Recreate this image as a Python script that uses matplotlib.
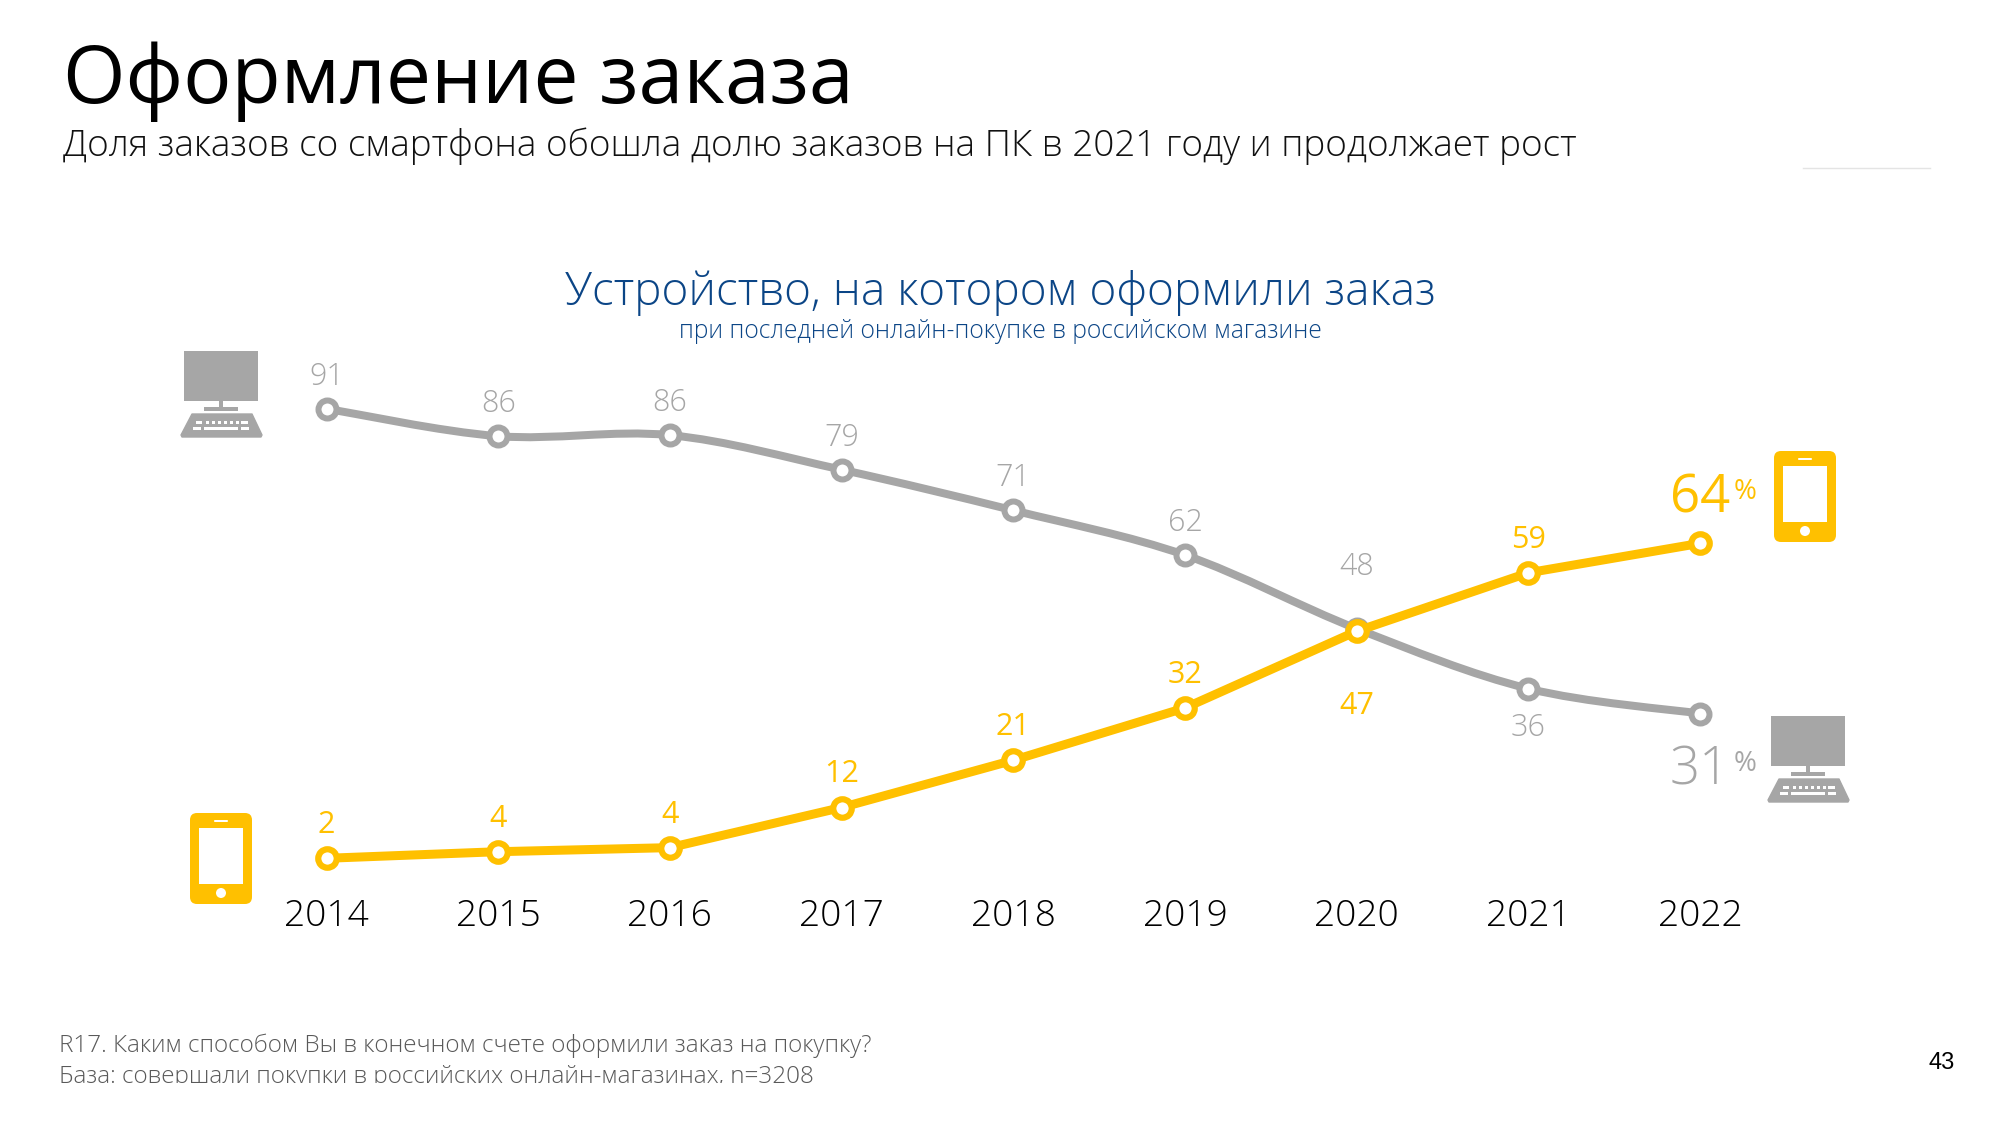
import matplotlib
matplotlib.use('Agg')
import matplotlib.pyplot as plt
import numpy as np
from matplotlib.patches import FancyBboxPatch, PathPatch, Polygon, Rectangle, Circle
from matplotlib.path import Path

plt.rcParams['font.family'] = ['Open Sans', 'DejaVu Sans']

years = [2014, 2015, 2016, 2017, 2018, 2019, 2020, 2021, 2022]
desktop_values = [91, 85.6, 85.8, 79, 71, 62.2, 47.7, 35.9, 31]
phone_values = [2.5, 3.8, 4.6, 12.5, 21.8, 32.1, 47.2, 58.7, 64.5]
desktop_labels = ['91', '86', '86', '79', '71', '62', '48', '36', '31']
phone_labels = ['2', '4', '4', '12', '21', '32', '47', '59', '64']

title = 'Оформление заказа'
subtitle = 'Доля заказов со смартфона обошла долю заказов на ПК в 2021 году и продолжает рост'
chart_title = 'Устройство, на котором оформили заказ'
chart_subtitle = 'при последней онлайн-покупке в российском магазине'
footnote_1 = 'R17. Каким способом Вы в конечном счете оформили заказ на покупку?'
footnote_2 = 'База: совершали покупки в российских онлайн-магазинах, n=3208'
page_number = '43'

GRAY = '#A6A6A6'
YELLOW = '#FFC000'
NAVY = '#0B4586'
W, H = 2000, 1125
PX = 0.72  # points per pixel at dpi 100


def smooth_path(xs, ys):
    # catmull-rom through the points, as bezier segments
    pts = np.column_stack([xs, ys]).astype(float)
    verts = [pts[0]]
    codes = [Path.MOVETO]
    for i in range(len(pts) - 1):
        prev_pt = pts[max(i - 1, 0)]
        next_pt = pts[min(i + 2, len(pts) - 1)]
        verts.append(pts[i] + (pts[i + 1] - prev_pt) / 6)
        verts.append(pts[i + 1] - (next_pt - pts[i]) / 6)
        verts.append(pts[i + 1])
        codes += [Path.CURVE4] * 3
    return Path(verts, codes)


def draw_desktop(ax, ox, oy, color=GRAY):
    ax.add_patch(Rectangle((ox, oy), 74, 50, fc=color, ec='none'))
    ax.add_patch(Rectangle((ox + 35, oy + 50), 4, 7, fc=color, ec='none'))
    ax.add_patch(Rectangle((ox + 20, oy + 56), 34, 4, fc=color, ec='none'))
    ax.add_patch(Polygon([(ox + 8, oy + 63), (ox + 68, oy + 63),
                          (ox + 78, oy + 84), (ox + 77, oy + 86),
                          (ox - 2, oy + 86), (ox - 3, oy + 84)],
                         closed=True, fc=color, ec=color, lw=1, joinstyle='round'))
    for kx, kw in [(12, 6), (22, 3), (28, 3), (34, 3), (40, 3), (46, 3), (52, 3), (57, 7)]:
        ax.add_patch(Rectangle((ox + kx, oy + 70), kw, 3, fc='white', ec='none'))
    for kx, kw in [(9, 8), (20, 34), (57, 8)]:
        ax.add_patch(Rectangle((ox + kx, oy + 76), kw, 3, fc='white', ec='none'))


def draw_phone(ax, ox, oy, color=YELLOW):
    ax.add_patch(FancyBboxPatch((ox + 6, oy + 6), 50, 79,
                                boxstyle='round,pad=6,rounding_size=7',
                                fc=color, ec='none', mutation_aspect=1))
    ax.add_patch(Rectangle((ox + 9, oy + 15), 44, 56, fc='white', ec='none'))
    ax.add_patch(Circle((ox + 31, oy + 80), 5, fc='white', ec='none'))
    ax.add_patch(FancyBboxPatch((ox + 24, oy + 7), 14, 2,
                                boxstyle='round,pad=0,rounding_size=1',
                                fc='white', ec='none'))


fig = plt.figure(figsize=(W / 100, H / 100), dpi=100, facecolor='white')

# data axes: 2014..2022 sit on x 326.5..1700, value 0 on y 871 at 5.08 px per unit
x_lo, x_hi = 250, 1790
y_top, y_bottom = 300, 890
px_per_year = (1700 - 326.5) / 8
px_per_unit = 5.08
ax = fig.add_axes([x_lo / W, 1 - y_bottom / H, (x_hi - x_lo) / W, (y_bottom - y_top) / H])
ax.set_xlim(2014 - (326.5 - x_lo) / px_per_year, 2022 + (x_hi - 1700) / px_per_year)
ax.set_ylim((871 - y_bottom) / px_per_unit, (871 - y_top) / px_per_unit)
ax.patch.set_alpha(0)
for spine in ax.spines.values():
    spine.set_visible(False)
ax.yaxis.set_visible(False)
ax.set_xticks(years)
ax.set_xticklabels([str(y) for y in years], fontsize=26.7, color='black', fontweight='light')
ax.tick_params(axis='x', length=0, pad=6)

# the gray line is smoothed in the reference, the yellow one is straight
ax.add_patch(PathPatch(smooth_path(years, desktop_values), fc='none', ec=GRAY,
                       lw=8 * PX, capstyle='round', zorder=2))
ax.plot(years, desktop_values, ls='none', marker='o', ms=18 * PX, mew=6 * PX,
        mfc='white', mec=GRAY, zorder=2.5, clip_on=False)
ax.plot(years, phone_values, color=YELLOW, lw=9 * PX, marker='o', ms=18.5 * PX,
        mew=6.2 * PX, mfc='white', mec=YELLOW, zorder=3, clip_on=False)

# label offsets in pixels, up is positive
desktop_offsets = {2020: 62, 2021: -39}
phone_offsets = {2020: -75}
for i, year in enumerate(years[:-1]):
    ax.annotate(desktop_labels[i], (year, desktop_values[i]),
                xytext=(0, desktop_offsets.get(year, 32) * PX), textcoords='offset points',
                ha='center', va='center', fontsize=22, color=GRAY, fontweight='light')
    ax.annotate(phone_labels[i], (year, phone_values[i]),
                xytext=(0, phone_offsets.get(year, 33) * PX), textcoords='offset points',
                ha='center', va='center', fontsize=22, color=YELLOW)

# big end labels
ax.annotate(phone_labels[-1], (years[-1], phone_values[-1]), xytext=(0, 45 * PX),
            textcoords='offset points', ha='center', va='center', fontsize=38,
            color=YELLOW)
ax.annotate(desktop_labels[-1], (years[-1], desktop_values[-1]), xytext=(0, -57 * PX),
            textcoords='offset points', ha='center', va='center', fontsize=38,
            color=GRAY, fontweight='light')

# overlay in reference pixels for text and icons
over = fig.add_axes([0, 0, 1, 1])
over.set_xlim(0, W)
over.set_ylim(H, 0)
over.axis('off')
over.patch.set_alpha(0)

over.text(63, 82, title, fontsize=58, color='black', va='center', ha='left')
over.text(63, 146, subtitle, fontsize=26.6, color='#111111', va='center', ha='left', fontweight='light')
over.text(1000, 292.5, chart_title, fontsize=33, color=NAVY, va='center', ha='center', fontweight='light')
over.text(1000, 331, chart_subtitle, fontsize=17.75, color=NAVY, va='center', ha='center', fontweight='light')
over.text(1745, 492, '%', fontsize=20, color=YELLOW, va='center', ha='center')
over.text(1745, 764, '%', fontsize=20, color=GRAY, va='center', ha='center')

over.text(59, 1046, footnote_1, fontsize=17.5, color='#595959', va='center', ha='left', fontweight='light')
over.text(59, 1077, footnote_2, fontsize=17.5, color='#595959', va='center', ha='left', fontweight='light')
over.add_patch(Rectangle((50, 1083), 900, 20, fc='white', ec='none', zorder=5))
over.text(1942, 1063, page_number, fontsize=17, color='black', va='center', ha='center',
          family=['Liberation Sans'])
over.plot([1803, 1930], [168, 168], color='#E4E4E4', lw=1)

draw_desktop(over, 184, 351)
draw_desktop(over, 1771, 716)
draw_phone(over, 190, 813)
draw_phone(over, 1774, 451)

fig.savefig('out.png', dpi=100, facecolor='white')
